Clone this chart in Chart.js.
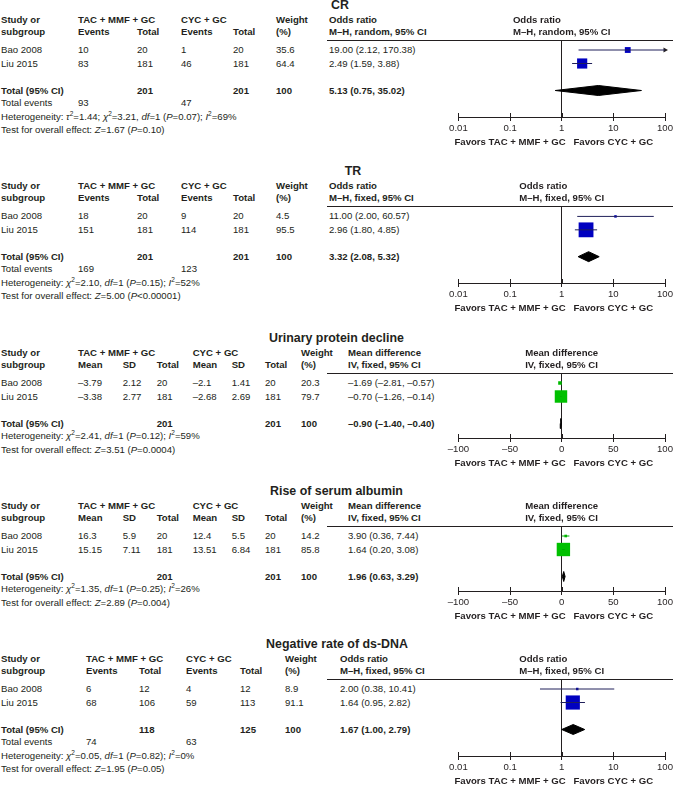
<!DOCTYPE html>
<html>
<head>
<meta charset="utf-8">
<script src="https://cdn.jsdelivr.net/npm/chart.js@4.4.0/dist/chart.umd.min.js"></script>
<style>
html, body { margin: 0; padding: 0; background: #fff; }
body { width: 673px; height: 787px; position: relative; overflow: hidden;
  font-family: "Liberation Sans", Arial, sans-serif; font-size: 9.6px; color: #231f20; }
.t { position: absolute; white-space: nowrap; line-height: 12px; }
.b { font-weight: bold; }
.ttl { position: absolute; white-space: nowrap; font-weight: bold; font-size: 12.4px; line-height: 14px; transform: translateX(-50%); }
.hl { position: absolute; height: 1px; background: #231f20; }
sup { font-size: 6.5px; line-height: 0; vertical-align: 4px; }
canvas { position: absolute; left: 0; }
</style>
</head>
<body>
<script>
const studies = ['Bao 2008', 'Liu 2015'];
const orTicks = [0.01, 0.1, 1, 10, 100];
const mdTicks = [-100, -50, 0, 50, 100];
const groupA = 'TAC + MMF + GC';
const groupB = 'CYC + GC';

// CR - odds ratio, random
const crEventsA = [10, 83];
const crTotalA = [20, 181];
const crEventsB = [1, 46];
const crTotalB = [20, 181];
const crWeight = [35.6, 64.4];
const crOR = [19.00, 2.49];
const crLow = [2.12, 1.59];
const crHigh = [170.38, 3.88];
const crPooled = [5.13, 0.75, 35.02];
const crSums = [201, 201, 93, 47];

// TR - odds ratio, fixed
const trEventsA = [18, 151];
const trTotalA = [20, 181];
const trEventsB = [9, 114];
const trTotalB = [20, 181];
const trWeight = [4.5, 95.5];
const trOR = [11.00, 2.96];
const trLow = [2.00, 1.80];
const trHigh = [60.57, 4.85];
const trPooled = [3.32, 2.08, 5.32];
const trSums = [201, 201, 169, 123];

// urinary protein decline - mean difference
const upMeanA = [-3.79, -3.38];
const upSdA = [2.12, 2.77];
const upTotalA = [20, 181];
const upMeanB = [-2.1, -2.68];
const upSdB = [1.41, 2.69];
const upTotalB = [20, 181];
const upWeight = [20.3, 79.7];
const upMD = [-1.69, -0.70];
const upLow = [-2.81, -1.26];
const upHigh = [-0.57, -0.14];
const upPooled = [-0.90, -1.40, -0.40];
const upSums = [201, 201];

// rise of serum albumin
const saMeanA = [16.3, 15.15];
const saSdA = [5.9, 7.11];
const saTotalA = [20, 181];
const saMeanB = [12.4, 13.51];
const saSdB = [5.5, 6.84];
const saTotalB = [20, 181];
const saWeight = [14.2, 85.8];
const saMD = [3.90, 1.64];
const saLow = [0.36, 0.20];
const saHigh = [7.44, 3.08];
const saPooled = [1.96, 0.63, 3.29];
const saSums = [201, 201];

// negative rate of ds-DNA
const dsEventsA = [6, 68];
const dsTotalA = [12, 106];
const dsEventsB = [4, 59];
const dsTotalB = [12, 113];
const dsWeight = [8.9, 91.1];
const dsOR = [2.00, 1.64];
const dsLow = [0.38, 0.95];
const dsHigh = [10.41, 2.82];
const dsPooled = [1.67, 1.00, 2.79];
const dsSums = [118, 125, 74, 63];

const hetText = [
  'Heterogeneity: <i>τ</i><sup>2</sup>=1.44; <i>χ</i><sup>2</sup>=3.21, <i>df</i>=1 (<i>P</i>=0.07); <i>I</i><sup>2</sup>=69%',
  'Heterogeneity: <i>χ</i><sup>2</sup>=2.10, <i>df</i>=1 (<i>P</i>=0.15); <i>I</i><sup>2</sup>=52%',
  'Heterogeneity: <i>χ</i><sup>2</sup>=2.41, <i>df</i>=1 (<i>P</i>=0.12); <i>I</i><sup>2</sup>=59%',
  'Heterogeneity: <i>χ</i><sup>2</sup>=1.35, <i>df</i>=1 (<i>P</i>=0.25); <i>I</i><sup>2</sup>=26%',
  'Heterogeneity: <i>χ</i><sup>2</sup>=0.05, <i>df</i>=1 (<i>P</i>=0.82); <i>I</i><sup>2</sup>=0%'
];
const testText = [
  'Test for overall effect: <i>Z</i>=1.67 (<i>P</i>=0.10)',
  'Test for overall effect: <i>Z</i>=5.00 (<i>P</i>&lt;0.00001)',
  'Test for overall effect: <i>Z</i>=3.51 (<i>P</i>=0.0004)',
  'Test for overall effect: <i>Z</i>=2.89 (<i>P</i>=0.004)',
  'Test for overall effect: <i>Z</i>=1.95 (<i>P</i>=0.05)'
];

const panels = [
  { T: 5, title: 'CR', titleCx: 340, kind: 'or', model: 'M–H, random, 95% CI',
    cols: [1, 78, 137, 181, 233, 276, 329],
    cells: [crEventsA, crTotalA, crEventsB, crTotalB, crWeight],
    est: crOR, lo: crLow, hi: crHigh, w: crWeight, pooled: crPooled, sums: crSums },
  { T: 171, title: 'TR', titleCx: 353, kind: 'or', model: 'M–H, fixed, 95% CI',
    cols: [1, 78, 137, 181, 233, 276, 329],
    cells: [trEventsA, trTotalA, trEventsB, trTotalB, trWeight],
    est: trOR, lo: trLow, hi: trHigh, w: trWeight, pooled: trPooled, sums: trSums },
  { T: 338, title: 'Urinary protein decline', titleCx: 336.5, kind: 'md', model: 'IV, fixed, 95% CI',
    cols: [1, 78, 122.7, 156.7, 192.7, 231.7, 265, 301, 348],
    cells: [upMeanA, upSdA, upTotalA, upMeanB, upSdB, upTotalB, upWeight],
    est: upMD, lo: upLow, hi: upHigh, w: upWeight, pooled: upPooled, sums: upSums },
  { T: 491, title: 'Rise of serum albumin', titleCx: 336.5, kind: 'md', model: 'IV, fixed, 95% CI',
    cols: [1, 78, 122.7, 156.7, 192.7, 231.7, 265, 301, 348],
    cells: [saMeanA, saSdA, saTotalA, saMeanB, saSdB, saTotalB, saWeight],
    est: saMD, lo: saLow, hi: saHigh, w: saWeight, pooled: saPooled, sums: saSums },
  { T: 644, title: 'Negative rate of ds-DNA', titleCx: 337, kind: 'or', model: 'M–H, fixed, 95% CI',
    cols: [1, 86, 139, 186, 240, 285, 340],
    cells: [dsEventsA, dsTotalA, dsEventsB, dsTotalB, dsWeight],
    est: dsOR, lo: dsLow, hi: dsHigh, w: dsWeight, pooled: dsPooled, sums: dsSums }
];

const num = v => (v < 0 ? '–' : '') + Math.abs(v);
const fix = v => (v < 0 ? '–' : '') + Math.abs(v).toFixed(2);
const ci = (e, l, h) => fix(e) + ' (' + fix(l) + ', ' + fix(h) + ')';

function txt(x, cy, html, cls) {
  const d = document.createElement('div');
  d.className = 't' + (cls ? ' ' + cls : '');
  d.style.left = x + 'px';
  d.style.top = (cy - 6) + 'px';
  d.innerHTML = html;
  document.body.appendChild(d);
  return d;
}

const favorsPlugin = {
  id: 'favors',
  afterDraw(chart, args, opts) {
    const s = chart.scales.x, ctx = chart.ctx;
    ctx.save();
    ctx.strokeStyle = '#231f20';
    ctx.lineWidth = 1;
    s.ticks.forEach(t => {
      const x = Math.round(s.getPixelForValue(t.value)) + 0.5;
      ctx.beginPath();
      ctx.moveTo(x, s.top - 4);
      ctx.lineTo(x, s.top);
      ctx.stroke();
    });
    ctx.fillStyle = '#231f20';
    ctx.font = 'bold 9.6px "Liberation Sans", Arial, sans-serif';
    ctx.textAlign = 'center';
    ctx.textBaseline = 'middle';
    ctx.fillText('Favors ' + groupA, s.getPixelForValue(opts.left), s.top + 25);
    ctx.fillText('Favors ' + groupB, s.getPixelForValue(opts.right), s.top + 25);
    ctx.restore();
  }
};

panels.forEach((p, k) => {
  const isOR = p.kind === 'or';
  const c = p.cols;
  const wCol = c.length - 2, eCol = c.length - 1;

  // title + table text
  const tt = document.createElement('div');
  tt.className = 'ttl';
  tt.style.left = p.titleCx + 'px';
  tt.style.top = (p.T - 7) + 'px';
  tt.textContent = p.title;
  document.body.appendChild(tt);

  const head1 = isOR
    ? [[0, 'Study or'], [1, groupA], [3, groupB], [5, 'Weight'], [6, 'Odds ratio']]
    : [[0, 'Study or'], [1, groupA], [4, groupB], [7, 'Weight'], [8, 'Mean difference']];
  const head2 = isOR
    ? [[0, 'subgroup'], [1, 'Events'], [2, 'Total'], [3, 'Events'], [4, 'Total'], [5, '(%)'], [6, p.model]]
    : [[0, 'subgroup'], [1, 'Mean'], [2, 'SD'], [3, 'Total'], [4, 'Mean'], [5, 'SD'], [6, 'Total'], [7, '(%)'], [8, p.model]];
  head1.forEach(([i, s]) => txt(c[i], p.T + 15, s, 'b'));
  head2.forEach(([i, s]) => txt(c[i], p.T + 27, s, 'b'));

  studies.forEach((s, i) => {
    const y = p.T + 45 + i * 13.5;
    txt(c[0], y, s);
    p.cells.forEach((arr, j) => txt(c[j + 1], y, num(arr[i])));
    txt(c[eCol], y, ci(p.est[i], p.lo[i], p.hi[i]));
  });

  const ty = p.T + 85.5;
  txt(c[0], ty, 'Total (95% CI)', 'b');
  const nCols = isOR ? [2, 4] : [3, 6];
  txt(c[nCols[0]], ty, p.sums[0], 'b');
  txt(c[nCols[1]], ty, p.sums[1], 'b');
  txt(c[wCol], ty, '100', 'b');
  txt(c[eCol], ty, ci(...p.pooled), 'b');
  let ny = ty + 12.5;
  if (isOR) {
    txt(c[0], ny, 'Total events');
    txt(c[1], ny, p.sums[2]);
    txt(c[3], ny, p.sums[3]);
    ny += 13.5;
  }
  txt(c[0], ny, hetText[k]);
  txt(c[0], ny + 13.5, testText[k]);

  // header rule
  const hl = document.createElement('div');
  hl.className = 'hl';
  hl.style.left = '327px';
  hl.style.width = '346px';
  hl.style.top = (p.T + 35) + 'px';
  document.body.appendChild(hl);

  // forest plot
  const top = p.T + 35;
  const axisY = p.T + (isOR ? 112 : 100);
  const cTop = top - 10;
  const cH = axisY + 34 - cTop;
  const axisH = 4 + 9.6 * 1.2 + 2 * 2;
  const rowPx = 13.5;
  const canvas = document.createElement('canvas');
  canvas.width = 700;
  canvas.height = cH;
  canvas.style.top = cTop + 'px';
  document.body.appendChild(canvas);

  const xMin = isOR ? 0.01 : -100, xMax = 100;
  const ref = isOR ? 1 : 0;
  const color = isOR ? '#0000c0' : '#00c000';
  const lineColor = isOR ? '#20205a' : '#00a800';
  const datasets = [];
  p.est.forEach((e, i) => {
    datasets.push({ data: [{ x: Math.max(p.lo[i], xMin), y: i }, { x: Math.min(p.hi[i], xMax), y: i }],
      borderColor: lineColor, borderWidth: 1, pointRadius: 0, clip: false });
    if (p.hi[i] > xMax) {
      datasets.push({ data: [{ x: xMax, y: i }], showLine: false, pointStyle: 'triangle', pointRotation: 90,
        pointRadius: 3, pointBackgroundColor: '#231f20', pointBorderWidth: 0, clip: false });
    }
  });
  datasets.push({ data: p.est.map((e, i) => ({ x: e, y: i })), showLine: false, pointStyle: 'rect',
    pointRadius: p.w.map(w => Math.max(2.5, 0.15 * w + 0.5) / Math.SQRT2),
    pointBackgroundColor: color, pointBorderWidth: 0, clip: false });
  const [pe, pl, ph] = p.pooled, dy = 0.37;
  datasets.push({ data: [{ x: pl, y: 3 }, { x: pe, y: 3 - dy }, { x: ph, y: 3 }, { x: pe, y: 3 + dy }, { x: pl, y: 3 }],
    borderColor: '#000', borderWidth: 1, backgroundColor: '#000', fill: 'shape', pointRadius: 0, tension: 0 });

  const chart = new Chart(canvas, {
    type: 'line',
    data: { datasets },
    options: {
      responsive: false,
      animation: false,
      devicePixelRatio: 1,
      events: [],
      layout: { padding: { left: 458.4, right: 700 - 665, top: 10, bottom: cH - (axisY - cTop) - axisH } },
      plugins: {
        legend: { display: false },
        tooltip: { enabled: false },
        favors: { left: isOR ? 0.1 : -50, right: isOR ? 10 : 50 }
      },
      scales: {
        x: {
          type: isOR ? 'logarithmic' : 'linear',
          min: xMin, max: xMax,
          afterBuildTicks: s => { s.ticks = (isOR ? orTicks : mdTicks).map(v => ({ value: v })); },
          ticks: { callback: v => num(v), autoSkip: false, maxRotation: 0, padding: 2, color: '#231f20',
            font: { family: '"Liberation Sans", Arial, sans-serif', size: 9.6 } },
          grid: { color: ctx => (ctx.tick && ctx.tick.value === ref ? '#231f20' : 'rgba(0,0,0,0)'),
            tickColor: '#231f20', tickLength: 4, lineWidth: 1 },
          border: { display: true, color: '#231f20', width: 1 }
        },
        y: { type: 'linear', min: -10 / rowPx, max: (axisY - p.T - 45) / rowPx, reverse: true, display: false }
      }
    },
    plugins: [favorsPlugin]
  });

  const hd = document.createElement('div');
  hd.className = 't b';
  hd.style.left = chart.scales.x.getPixelForValue(ref) + 'px';
  hd.style.top = (p.T + 15 - 6) + 'px';
  hd.style.transform = 'translateX(-50%)';
  hd.innerHTML = (isOR ? 'Odds ratio' : 'Mean difference') + '<br>' + p.model;
  document.body.appendChild(hd);
});
</script>
</body>
</html>
